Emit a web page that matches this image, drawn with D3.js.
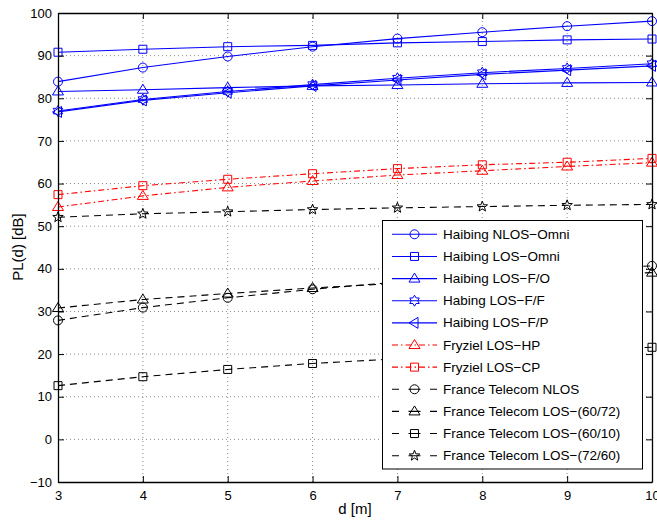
<!DOCTYPE html>
<html><head><meta charset="utf-8">
<script src="https://cdn.jsdelivr.net/npm/d3@7"></script>
<style>
html,body{margin:0;padding:0;background:#fff;}
svg{display:block;font-family:"Liberation Sans",Arial,Helvetica,sans-serif;}
</style></head>
<body>
<svg id="chart" width="657" height="520"></svg>
<script>
// ---- data ----
const distances = [3, 4, 5, 6, 7, 8, 9, 10];
const xTicks = [3, 4, 5, 6, 7, 8, 9, 10];
const yTicks = [-10, 0, 10, 20, 30, 40, 50, 60, 70, 80, 90, 100];

const haibingNlosOmni = [83.9, 87.2, 89.8, 92.1, 94.0, 95.5, 96.9, 98.1];
const haibingLosOmni  = [90.8, 91.5, 92.1, 92.4, 93.0, 93.3, 93.7, 93.9];
const haibingLosFO    = [81.6, 82.0, 82.5, 82.9, 83.1, 83.4, 83.6, 83.7];
const habingLosFF     = [77.0, 79.7, 81.6, 83.2, 84.7, 86.0, 87.0, 88.1];
const haibingLosFP    = [76.8, 79.5, 81.3, 82.9, 84.3, 85.6, 86.6, 87.6];
const fryzielLosHP    = [54.5, 57.1, 59.1, 60.6, 62.0, 63.0, 64.0, 64.9];
const fryzielLosCP    = [57.4, 59.5, 61.0, 62.3, 63.5, 64.4, 65.0, 65.9];
const ftNlos          = [27.9, 30.9, 33.2, 35.2, 36.9, 38.3, 39.6, 40.7];
const ftLos6072       = [30.8, 32.8, 34.2, 35.5, 36.6, 37.6, 38.5, 39.1];
const ftLos6010       = [12.6, 14.7, 16.4, 17.8, 18.9, 19.9, 20.8, 21.6];
const ftLos7260       = [52.1, 52.9, 53.4, 53.9, 54.3, 54.6, 54.9, 55.1];

const seriesNames = [
  "Haibing NLOS\u2212Omni", "Haibing LOS\u2212Omni", "Haibing LOS\u2212F/O",
  "Habing LOS\u2212F/F", "Haibing LOS\u2212F/P", "Fryziel LOS\u2212HP",
  "Fryziel LOS\u2212CP", "France Telecom NLOS", "France Telecom LOS\u2212(60/72)",
  "France Telecom LOS\u2212(60/10)", "France Telecom LOS\u2212(72/60)"
];
const seriesValues = [haibingNlosOmni, haibingLosOmni, haibingLosFO, habingLosFF,
  haibingLosFP, fryzielLosHP, fryzielLosCP, ftNlos, ftLos6072, ftLos6010, ftLos7260];
const seriesMarkers = ["circle", "square", "triangle", "hexagram", "left",
  "triangle", "square", "circle", "triangle", "square", "star"];
const seriesStyle = ["blue", "blue", "blue", "blue", "blue", "red", "red",
  "black", "black", "black", "black"];

// ---- styling ----
const styles = {
  blue:  {color: "#0000ff", dash: null, width: 1.1},
  red:   {color: "#ff0000", dash: "6,3,1.5,3", width: 1.1},
  black: {color: "#000000", dash: "7,5", width: 1.1}
};

const svg = d3.select("#chart");
const x = d3.scaleLinear().domain([3, 10]).range([58, 652]);
const y = d3.scaleLinear().domain([-10, 100]).range([482, 13]);

// grid
const grid = svg.append("g");
grid.selectAll("line.vg").data(xTicks.slice(1, -1)).enter().append("line")
  .attr("x1", d => x(d)).attr("x2", d => x(d)).attr("y1", y(100)).attr("y2", y(-10))
  .attr("stroke", "#8a8a8a").attr("stroke-width", 1).attr("stroke-dasharray", "1,3");
grid.selectAll("line.hg").data(yTicks.slice(1, -1)).enter().append("line")
  .attr("y1", d => y(d)).attr("y2", d => y(d)).attr("x1", x(3)).attr("x2", x(10))
  .attr("stroke", "#8a8a8a").attr("stroke-width", 1).attr("stroke-dasharray", "1,3");

// marker paths
function markerPath(type, cx, cy) {
  const p = d3.path();
  if (type === "circle") {
    p.moveTo(cx + 4.5, cy); p.arc(cx, cy, 4.5, 0, 2 * Math.PI);
  } else if (type === "square") {
    p.rect(cx - 4, cy - 4, 8, 8);
  } else if (type === "triangle") {
    p.moveTo(cx, cy - 5.5); p.lineTo(cx + 5.5, cy + 3.5); p.lineTo(cx - 5.5, cy + 3.5); p.closePath();
  } else if (type === "left") {
    p.moveTo(cx - 5.5, cy); p.lineTo(cx + 3.5, cy - 5.5); p.lineTo(cx + 3.5, cy + 5.5); p.closePath();
  } else if (type === "hexagram") {
    const R = 5.5, r = 3.2;
    for (let i = 0; i < 12; i++) {
      const a = -Math.PI / 2 + i * Math.PI / 6;
      const rr = i % 2 === 0 ? R : r;
      const px = cx + rr * Math.cos(a), py = cy + rr * Math.sin(a);
      if (i === 0) p.moveTo(px, py); else p.lineTo(px, py);
    }
    p.closePath();
  } else if (type === "star") {
    const R = 5.5, r = 2.3;
    for (let i = 0; i < 10; i++) {
      const a = -Math.PI / 2 + i * Math.PI / 5;
      const rr = i % 2 === 0 ? R : r;
      const px = cx + rr * Math.cos(a), py = cy + rr * Math.sin(a);
      if (i === 0) p.moveTo(px, py); else p.lineTo(px, py);
    }
    p.closePath();
  }
  return p.toString();
}

// series
const lineGen = d3.line().x((d, i) => x(distances[i])).y(d => y(d));
const plot = svg.append("g");
seriesValues.forEach((vals, k) => {
  const st = styles[seriesStyle[k]];
  plot.append("path").datum(vals).attr("d", lineGen)
    .attr("fill", "none").attr("stroke", st.color).attr("stroke-width", st.width)
    .attr("stroke-dasharray", st.dash);
  plot.selectAll(null).data(vals).enter().append("path")
    .attr("d", (d, i) => markerPath(seriesMarkers[k], x(distances[i]), y(d)))
    .attr("fill", "none").attr("stroke", st.color).attr("stroke-width", 1);
});

// axes box with inward ticks
const axG = svg.append("g").attr("font-size", 13);
const fmt = d => d < 0 ? "\u2212" + Math.abs(d) : String(d);
const axBottom = d3.axisBottom(x).tickValues(xTicks).tickFormat(fmt).tickSizeInner(-6).tickSizeOuter(0).tickPadding(9);
const axLeft = d3.axisLeft(y).tickValues(yTicks).tickFormat(fmt).tickSizeInner(-6).tickSizeOuter(0).tickPadding(6);
const axTop = d3.axisTop(x).tickValues(xTicks).tickSizeInner(-6).tickSizeOuter(0).tickFormat("");
const axRight = d3.axisRight(y).tickValues(yTicks).tickSizeInner(-6).tickSizeOuter(0).tickFormat("");
function styleAxis(g) {
  g.select(".domain").attr("stroke", "#000").attr("stroke-width", 1.3);
  g.selectAll(".tick line").attr("stroke", "#000").attr("stroke-width", 1);
  g.selectAll(".tick text").attr("fill", "#000").attr("font-size", 13)
    .attr("font-family", "Liberation Sans, Arial, sans-serif");
}
axG.append("g").attr("transform", `translate(0,${y(-10)})`).call(axBottom).call(styleAxis);
axG.append("g").attr("transform", `translate(${x(3)},0)`).call(axLeft).call(styleAxis);
axG.append("g").attr("transform", `translate(0,${y(100)})`).call(axTop).call(styleAxis);
axG.append("g").attr("transform", `translate(${x(10)},0)`).call(axRight).call(styleAxis);

// axis labels
svg.append("text").attr("x", 355).attr("y", 514).attr("text-anchor", "middle")
  .attr("font-size", 15).text("d [m]");
svg.append("text").attr("transform", "translate(23,247) rotate(-90)")
  .attr("text-anchor", "middle").attr("font-size", 15).text("PL(d) [dB]");

// legend
const lg = svg.append("g");
lg.append("rect").attr("x", 382.5).attr("y", 220.5).attr("width", 260).attr("height", 248.5)
  .attr("fill", "#fff").attr("stroke", "#000").attr("stroke-width", 1);
seriesNames.forEach((name, k) => {
  const st = styles[seriesStyle[k]];
  const yy = 234.3 + k * 22.14;
  lg.append("line").attr("x1", 392).attr("x2", 437).attr("y1", yy).attr("y2", yy)
    .attr("stroke", st.color).attr("stroke-width", st.width)
    .attr("stroke-dasharray", seriesStyle[k] === "black" ? "7,9.5,12,9.5" : (seriesStyle[k] === "red" ? "6,3,1.5,3" : null));
  lg.append("path").attr("d", markerPath(seriesMarkers[k], 414.5, yy))
    .attr("fill", "none").attr("stroke", st.color).attr("stroke-width", 1);
  lg.append("text").attr("x", 443).attr("y", yy + 4.6).attr("font-size", 13.5).text(name);
});
</script>
</body></html>
